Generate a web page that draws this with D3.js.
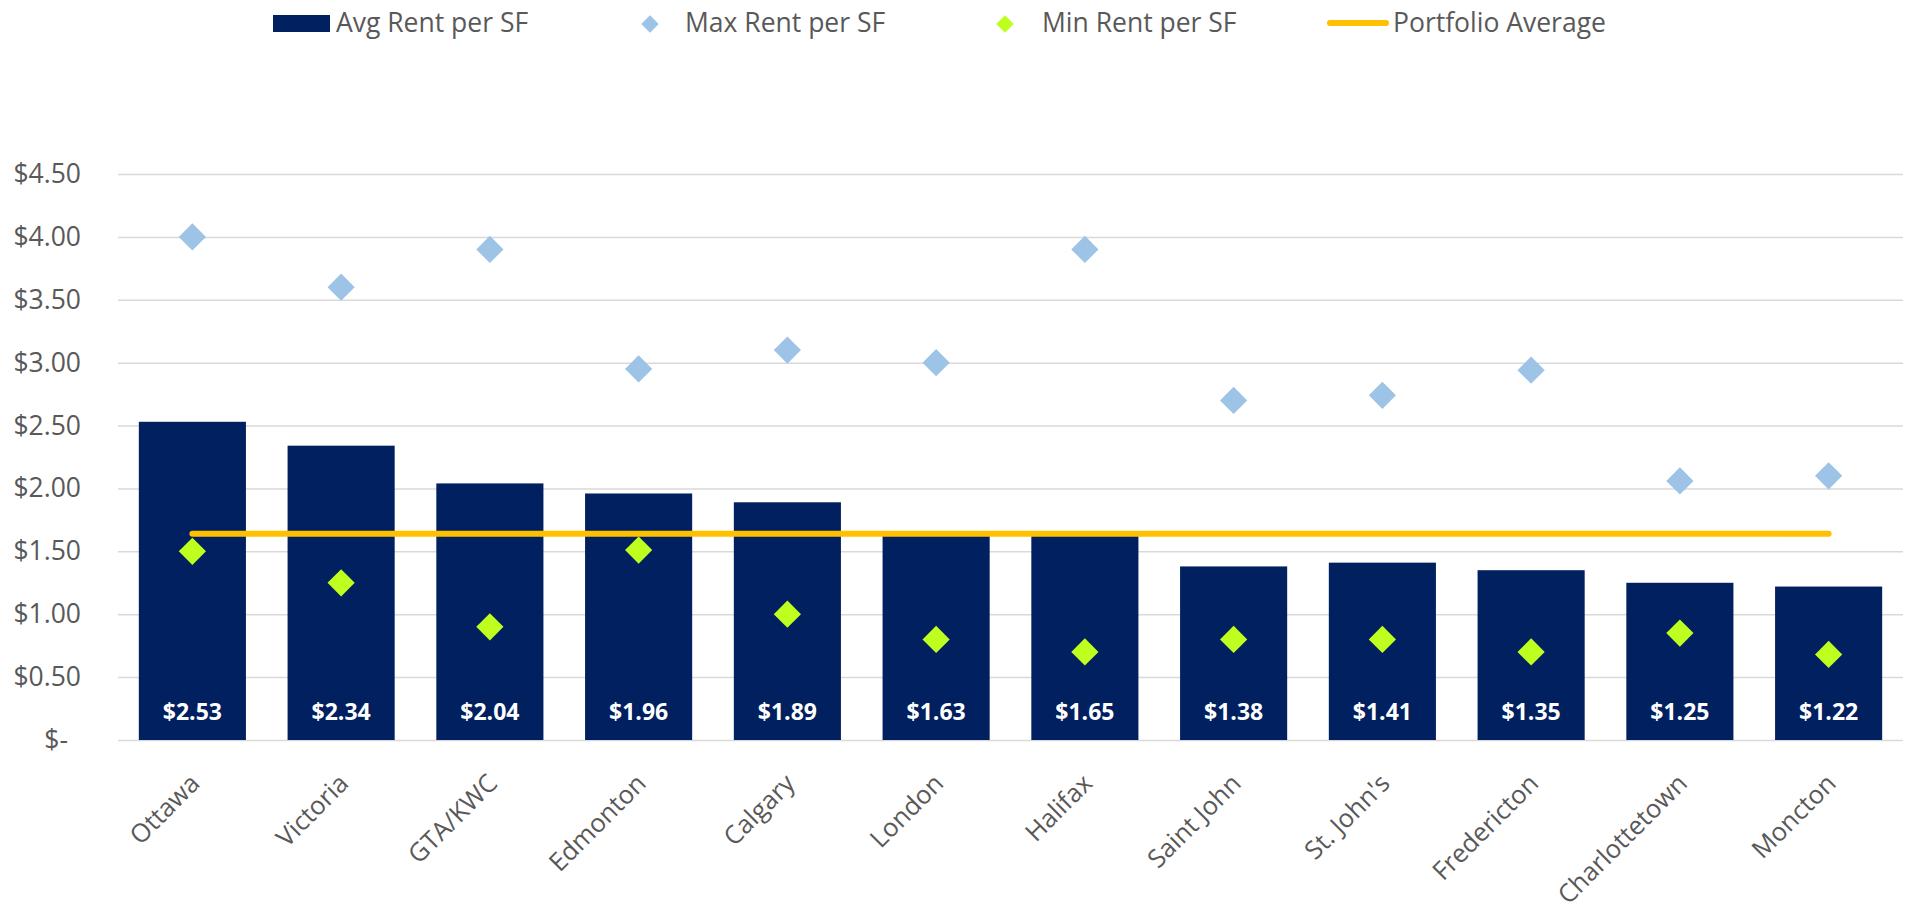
<!DOCTYPE html>
<html>
<head>
<meta charset="utf-8">
<script src="https://cdn.jsdelivr.net/npm/d3@7"></script>
<style>
  body { margin: 0; background: #fff; }
  svg { display: block; font-family: "Open Sans", sans-serif; }
</style>
</head>
<body>
<div id="chart"></div>
<script>
// values
var cities = ["Ottawa", "Victoria", "GTA/KWC", "Edmonton", "Calgary", "London",
  "Halifax", "Saint John", "St. John's", "Fredericton", "Charlottetown", "Moncton"];
var avgRent = [2.53, 2.34, 2.04, 1.96, 1.89, 1.63, 1.65, 1.38, 1.41, 1.35, 1.25, 1.22];
var maxRent = [4.00, 3.60, 3.90, 2.95, 3.10, 3.00, 3.90, 2.70, 2.74, 2.94, 2.06, 2.10];
var minRent = [1.50, 1.25, 0.90, 1.51, 1.00, 0.80, 0.70, 0.80, 0.80, 0.70, 0.85, 0.68];
var portfolioAvg = 1.64;
var yTicks = [0, 0.5, 1, 1.5, 2, 2.5, 3, 3.5, 4, 4.5];
var seriesNames = ["Avg Rent per SF", "Max Rent per SF", "Min Rent per SF", "Portfolio Average"];

var W = 1908, H = 909;
var margin = {top: 174, right: 5, bottom: 169, left: 118};
var textCol = "#595959", navy = "#002060", lightBlue = "#9DC3E6", lime = "#BFFF1F", gold = "#FFC000";

var svg = d3.select("#chart").append("svg")
    .attr("width", W)
    .attr("height", H);

var x = d3.scaleBand()
    .domain(cities)
    .range([margin.left, W - margin.right])
    .paddingInner(0.28)
    .paddingOuter(0.14);

var y = d3.scaleLinear()
    .domain([0, 4.5])
    .range([H - margin.bottom, margin.top]);

// gridlines + y labels
var yAxis = svg.append("g")
    .attr("transform", "translate(" + margin.left + ",0)")
    .call(d3.axisLeft(y)
      .tickValues(yTicks)
      .tickSize(-(W - margin.left - margin.right))
      .tickPadding(37)
      .tickFormat(function (d) { return d === 0 ? "$-" : "$" + d.toFixed(2); }));
yAxis.attr("font-family", null).attr("font-size", null);
yAxis.select(".domain").remove();
yAxis.selectAll(".tick line").attr("stroke", "#D9D9D9").attr("stroke-width", 1.5);
yAxis.selectAll(".tick text")
    .attr("fill", textCol)
    .style("font-size", "26.5px")
    .attr("dx", function (d) { return d === 0 ? -13 : 0; });

// bars
svg.append("g").selectAll("rect")
    .data(cities)
    .enter().append("rect")
    .attr("x", function (d) { return x(d); })
    .attr("y", function (d, i) { return y(avgRent[i]); })
    .attr("width", x.bandwidth())
    .attr("height", function (d, i) { return y(0) - y(avgRent[i]); })
    .attr("fill", navy);

// value labels inside bars
svg.append("g").selectAll("text")
    .data(cities)
    .enter().append("text")
    .attr("x", function (d) { return x(d) + x.bandwidth() / 2; })
    .attr("y", y(0) - 20)
    .attr("text-anchor", "middle")
    .attr("fill", "#fff")
    .style("font-size", "23px")
    .style("font-weight", "bold")
    .text(function (d, i) { return "$" + avgRent[i].toFixed(2); });

// portfolio average line
var line = d3.line()
    .x(function (d) { return x(d) + x.bandwidth() / 2; })
    .y(function () { return y(portfolioAvg); });
svg.append("path")
    .datum(cities)
    .attr("d", line)
    .attr("fill", "none")
    .attr("stroke", gold)
    .attr("stroke-width", 6)
    .attr("stroke-linecap", "round");

// diamonds (square turned 45deg, like Excel markers)
var diamond = d3.symbol().type(d3.symbolSquare).size(370);
function drawMarkers(vals, color) {
  svg.append("g").selectAll("path")
      .data(cities)
      .enter().append("path")
      .attr("d", diamond)
      .attr("transform", function (d, i) {
        return "translate(" + (x(d) + x.bandwidth() / 2) + "," + y(vals[i]) + ")rotate(45)";
      })
      .attr("fill", color);
}
drawMarkers(maxRent, lightBlue);
drawMarkers(minRent, lime);

// category labels, rotated
svg.append("g").selectAll("text")
    .data(cities)
    .enter().append("text")
    .attr("transform", function (d) {
      return "translate(" + (x(d) + x.bandwidth() / 2 + 9) + "," + (y(0) + 45) + ")rotate(-45)";
    })
    .attr("text-anchor", "end")
    .attr("fill", textCol)
    .style("font-size", "25.5px")
    .text(function (d) { return d; });

// legend
var legend = svg.append("g").style("font-size", "26.5px").attr("fill", textCol);
var legX = [336, 685, 1042, 1393];
legend.append("rect").attr("x", 273).attr("y", 15).attr("width", 57).attr("height", 17).attr("fill", navy);
legend.append("path").attr("d", d3.symbol().type(d3.symbolSquare).size(150))
    .attr("transform", "translate(650,24)rotate(45)").attr("fill", lightBlue);
legend.append("path").attr("d", d3.symbol().type(d3.symbolSquare).size(150))
    .attr("transform", "translate(1005,24)rotate(45)").attr("fill", lime);
legend.append("line").attr("x1", 1330).attr("x2", 1386).attr("y1", 23).attr("y2", 23)
    .attr("stroke", gold).attr("stroke-width", 6).attr("stroke-linecap", "round");
legend.selectAll("text.leg")
    .data(seriesNames)
    .enter().append("text")
    .attr("class", "leg")
    .attr("x", function (d, i) { return legX[i]; })
    .attr("y", 32)
    .text(function (d) { return d; });
</script>
</body>
</html>
